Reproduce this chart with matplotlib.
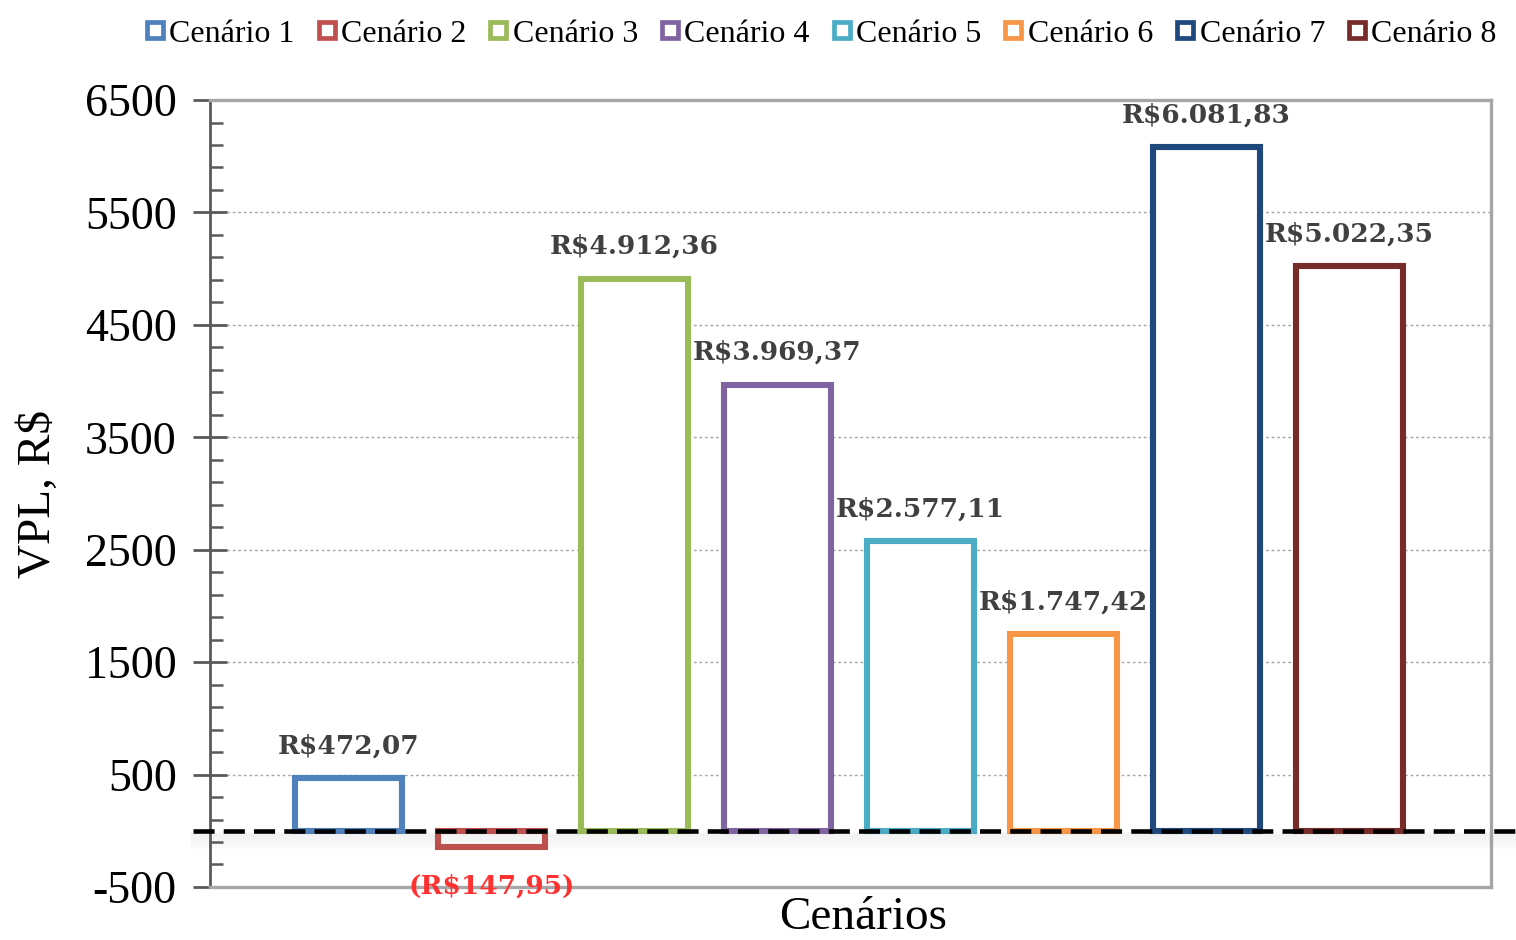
import matplotlib
matplotlib.use("Agg")
import matplotlib.pyplot as plt
from matplotlib.lines import Line2D
from matplotlib.ticker import FixedLocator
import matplotlib.transforms as mtransforms

# Data
scenarios = ["Cenário 1", "Cenário 2", "Cenário 3", "Cenário 4",
             "Cenário 5", "Cenário 6", "Cenário 7", "Cenário 8"]
vpl = [472.07, -147.95, 4912.36, 3969.37, 2577.11, 1747.42, 6081.83, 5022.35]
value_labels = ["R$472,07", "(R$147,95)", "R$4.912,36", "R$3.969,37",
                "R$2.577,11", "R$1.747,42", "R$6.081,83", "R$5.022,35"]
colors = ["#4F81BD", "#C0504D", "#9BBB59", "#8064A2",
          "#4BACC6", "#F79646", "#1F497D", "#772C2A"]
y_ticks = [-500, 500, 1500, 2500, 3500, 4500, 5500, 6500]

serif = "Liberation Serif"
plt.rcParams["axes.unicode_minus"] = False

fig = plt.figure(figsize=(15.16, 9.4), dpi=100)
ax = fig.add_axes([0.1385, 0.0564, 0.845, 0.8372])

x = list(range(len(scenarios)))
ax.bar(x, vpl, width=0.75, facecolor="white", edgecolor=colors,
       linewidth=4.4, zorder=3)

ax.set_xlim(-0.97, 7.99)
ax.set_ylim(-500, 6500)
ax.yaxis.set_major_locator(FixedLocator(y_ticks))
ax.yaxis.set_minor_locator(FixedLocator(list(range(-300, 6500, 200))))
ax.set_xticks([])
ax.grid(axis="y", which="major", color="#A6A6A6", linestyle=(0, (2, 2)),
        linewidth=1.0, zorder=0)

for side in ["top", "right", "bottom"]:
    ax.spines[side].set_color("#A6A6A6")
    ax.spines[side].set_linewidth(2.4)
ax.spines["left"].set_color("#595959")
ax.spines["left"].set_linewidth(2.0)

ax.tick_params(axis="y", which="major", direction="inout", length=24,
               width=2.0, color="#595959", labelsize=33, pad=12)
ax.tick_params(axis="y", which="minor", direction="in", length=9,
               width=1.8, color="#595959")
for lbl in ax.get_yticklabels():
    lbl.set_fontfamily(serif)

ax.set_ylabel("VPL, R$", fontsize=34, fontfamily=serif, labelpad=18)
ax.set_xlabel("Cenários", fontsize=34, fontfamily=serif)
ax.xaxis.set_label_coords(0.51, -0.012, transform=ax.transAxes)
ax.xaxis.label.set_verticalalignment("top")

# Value labels
for xi, v, txt in zip(x, vpl, value_labels):
    if v >= 0:
        ax.annotate(txt, (xi, v), xytext=(0, 14), textcoords="offset points",
                    ha="center", va="bottom", fontsize=19,
                    fontfamily="DejaVu Serif", fontweight="bold",
                    color="#404040", zorder=5)
    else:
        ax.annotate(txt, (xi, v), xytext=(0, -19), textcoords="offset points",
                    ha="center", va="top", fontsize=19,
                    fontfamily="DejaVu Serif", fontweight="bold",
                    color="#FF3030", annotation_clip=False, zorder=5)

# Zero reference line with a soft shadow, spanning to the right edge
trans = mtransforms.blended_transform_factory(fig.transFigure, ax.transData)
for i, a in enumerate([0.05, 0.045, 0.04, 0.035, 0.03, 0.025, 0.02, 0.015]):
    off = -25 - i * 18
    fig.add_artist(Line2D([0.127, 1.0], [off, off], transform=trans,
                          color="gray", alpha=a, linewidth=3, zorder=2))
fig.add_artist(Line2D([0.127, 1.0], [0, 0], transform=trans, color="black",
                      linewidth=3.3, linestyle=(0, (4.6, 2.0)), zorder=6))

# Legend
handles = [Line2D([], [], linestyle="none", marker="s", markersize=12,
                  markerfacecolor="white", markeredgecolor=c,
                  markeredgewidth=3.4) for c in colors]
fig.legend(handles, scenarios, loc="center", bbox_to_anchor=(0.540, 0.964),
           ncol=8, frameon=False, handletextpad=0.0, columnspacing=0.55,
           handlelength=0.9, prop={"family": serif, "size": 23})

fig.savefig("out.png", dpi=100)
